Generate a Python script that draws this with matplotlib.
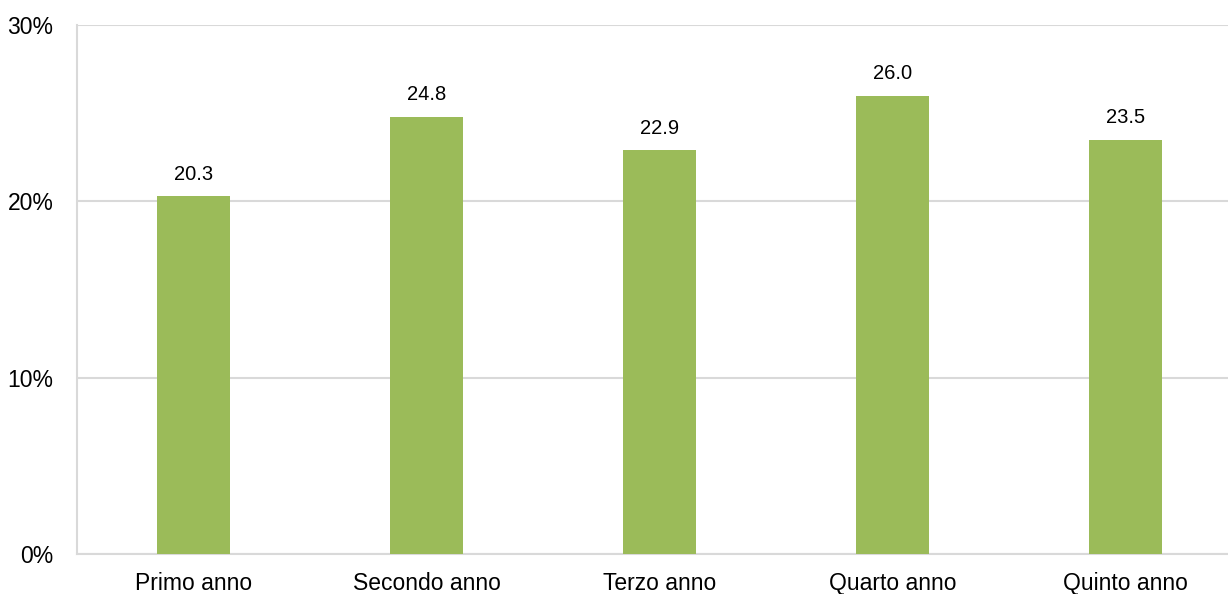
import matplotlib.pyplot as plt

plt.rcParams['font.family'] = ['Liberation Sans', 'DejaVu Sans']

# data
categories = ['Primo anno', 'Secondo anno', 'Terzo anno', 'Quarto anno', 'Quinto anno']
values = [20.3, 24.8, 22.9, 26.0, 23.5]
yticks = [0, 10, 20, 30]
ytick_labels = ['0%', '10%', '20%', '30%']

bar_color = '#9BBB59'
grid_color = '#D9D9D9'

fig = plt.figure(figsize=(12.28, 5.94), dpi=100)
ax = fig.add_axes([77/1228, 1-554/594, 1165/1228, 529/594])

x = list(range(len(categories)))
ax.bar(x, values, width=0.31, color=bar_color, zorder=3)

for xi, v in zip(x, values):
    ax.annotate(f'{v:.1f}', (xi, v), xytext=(0, 9), textcoords='offset points',
                ha='center', va='bottom', fontsize=14.5, color='black')

ax.set_xlim(-0.5, len(categories) - 0.5)
ax.set_ylim(0, 30)
ax.set_yticks(yticks)
ax.set_yticklabels(ytick_labels)
ax.set_xticks(x)
ax.set_xticklabels(categories)
ax.tick_params(axis='both', length=0, labelsize=16.5, colors='black')
ax.tick_params(axis='y', pad=17)
ax.tick_params(axis='x', pad=13)

ax.yaxis.grid(True, color=grid_color, linewidth=1.5, zorder=0)
for s in ['top', 'right']:
    ax.spines[s].set_visible(False)
for s in ['left', 'bottom']:
    ax.spines[s].set_color(grid_color)
    ax.spines[s].set_linewidth(1.5)

fig.savefig('out.png', dpi=100)
